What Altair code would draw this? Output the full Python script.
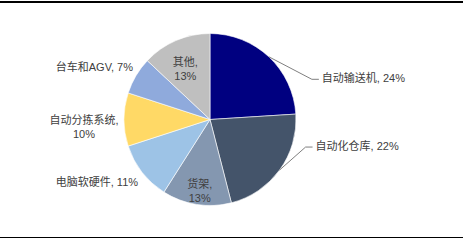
import math
import altair as alt
import pandas as pd

# ---- data ----
categories = ["自动输送机", "自动化仓库", "货架", "电脑软硬件", "自动分拣系统", "台车和AGV", "其他"]
shares = [24, 22, 13, 11, 10, 7, 13]
colors = ["#000080", "#44546A", "#8497B0", "#9DC3E6", "#FFD966", "#8FAADC", "#BFBFBF"]
line_break_after_name = [False, False, True, False, True, False, True]

# ---- layout / style ----
W, H = 463, 240
CX, CY, R = 210, 119.5, 86
FONT = "Liberation Sans, Noto Sans CJK SC, sans-serif"
TEXT_COLOR = "#404040"
placement = {
    "自动输送机": dict(kind="leader", off=(43, 22.5), run=7),
    "自动化仓库": dict(kind="leader", off=(26, -23), run=7),
    "货架": dict(kind="inside", r=66),
    "电脑软硬件": dict(kind="outside", off=(-4, 11), align="right"),
    "自动分拣系统": dict(kind="outside", off=(-40, 1.5), align="center"),
    "台车和AGV": dict(kind="outside", off=(-3, -8), align="right"),
    "其他": dict(kind="inside", r=62),
}

pie = pd.DataFrame({"cat": categories, "share": shares, "idx": range(len(categories))})

total = sum(shares)
labels, leaders = [], []
cum = 0
for c, v, br in zip(categories, shares, line_break_after_name):
    mid = (cum + v / 2) / total * 2 * math.pi
    cum += v
    ex, ey = CX + R * math.sin(mid), CY - R * math.cos(mid)
    text = f"{c},{chr(10) if br else ' '}{v}%"
    p = placement[c]
    if p["kind"] == "inside":
        tx, ty = CX + p["r"] * math.sin(mid), CY - p["r"] * math.cos(mid)
        labels.append(dict(text=text, x=tx, y=ty, align="center"))
    elif p["kind"] == "outside":
        labels.append(dict(text=text, x=ex + p["off"][0], y=ey + p["off"][1], align=p["align"]))
    else:
        bx, by = ex + p["off"][0], ey + p["off"][1]
        fx = bx + p["run"]
        for k, (px, py) in enumerate([(ex, ey), (bx, by), (fx, by)]):
            leaders.append(dict(cat=c, k=k, x=px, y=py))
        labels.append(dict(text=text, x=fx + 3, y=by - 0.5, align="left"))

lab_df = pd.DataFrame(labels)
lead_df = pd.DataFrame(leaders)

arc = alt.Chart(pie).mark_arc(outerRadius=R, stroke="white", strokeWidth=0.6).encode(
    theta=alt.Theta("share:Q", stack=True),
    order=alt.Order("idx:Q"),
    color=alt.Color("cat:N", scale=alt.Scale(domain=categories, range=colors), legend=None),
    x=alt.value(CX),
    y=alt.value(CY),
)

lead = alt.Chart(lead_df).mark_line(color="#7f7f7f", strokeWidth=1).encode(
    x=alt.X("x:Q", scale=None),
    y=alt.Y("y:Q", scale=None),
    detail="cat:N",
    order="k:Q",
)

text_layers = []
for al in ["left", "right", "center"]:
    text_layers.append(
        alt.Chart(lab_df).transform_filter(alt.datum.align == al).mark_text(
            align=al, baseline="middle", font=FONT, fontSize=11, color=TEXT_COLOR,
            lineBreak="\n", lineHeight=14,
        ).encode(
            x=alt.X("x:Q", scale=None),
            y=alt.Y("y:Q", scale=None),
            text="text:N",
        )
    )

top = alt.Chart(pie).mark_rule(color="black", strokeWidth=1.2).encode(
    x=alt.value(0), x2=alt.value(W), y=alt.value(2)
)
bottom = alt.Chart(pie).mark_rule(color="black", strokeWidth=1.2).encode(
    x=alt.value(0), x2=alt.value(W), y=alt.value(237.5)
)

chart = alt.layer(arc, lead, *text_layers, top, bottom).properties(
    width=W, height=H, autosize="none", padding=0
).configure_view(stroke=None)

chart.save("out.html", embed_options={"renderer": "svg", "actions": False})
